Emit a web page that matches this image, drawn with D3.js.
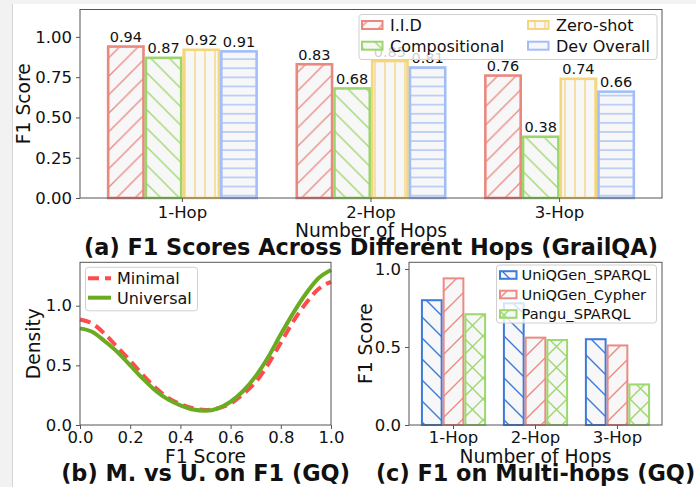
<!DOCTYPE html>
<html>
<head>
<meta charset="utf-8">
<script src="https://cdn.jsdelivr.net/npm/d3@7"></script>
<style>
body { margin: 0; background: #f2f2f2; }
svg { display: block; font-family: "DejaVu Sans", sans-serif; }
</style>
</head>
<body>
<svg id="chart" width="696" height="487"></svg>
<script>
// ---- (a) F1 by hops, GrailQA splits
var hops = ['1-Hop', '2-Hop', '3-Hop'];
var splitNames = ['I.I.D', 'Compositional', 'Zero-shot', 'Dev Overall'];
var iid = [0.94, 0.83, 0.76];
var compositional = [0.87, 0.68, 0.38];
var zeroShot = [0.92, 0.85, 0.74];
var devOverall = [0.91, 0.81, 0.66];
var aTicks = [0, 0.25, 0.5, 0.75, 1.0];

// ---- (b) density of F1, minimal vs universal
var f1Grid = [0, 0.05, 0.1, 0.15, 0.2, 0.25, 0.3, 0.35, 0.4, 0.45, 0.5,
              0.55, 0.6, 0.65, 0.7, 0.75, 0.8, 0.85, 0.9, 0.95, 1.0];
var minimalDensity = [0.885, 0.85, 0.76, 0.65, 0.54, 0.42, 0.315, 0.23, 0.175, 0.14, 0.125,
                      0.14, 0.18, 0.26, 0.36, 0.51, 0.69, 0.87, 1.02, 1.14, 1.20];
var universalDensity = [0.81, 0.78, 0.70, 0.61, 0.50, 0.39, 0.29, 0.215, 0.165, 0.13, 0.12,
                        0.14, 0.195, 0.285, 0.41, 0.57, 0.76, 0.94, 1.10, 1.23, 1.30];
var bXTicks = [0, 0.2, 0.4, 0.6, 0.8, 1.0];
var bYTicks = [0, 0.5, 1.0];

// ---- (c) multi-hop comparison
var methodNames = ['UniQGen_SPARQL', 'UniQGen_Cypher', 'Pangu_SPARQL'];
var uniqSparql = [0.80, 0.78, 0.55];
var uniqCypher = [0.94, 0.56, 0.51];
var panguSparql = [0.71, 0.545, 0.26];
var cTicks = [0, 0.5, 1.0];

var svg = d3.select('#chart');
svg.append('rect').attr('width', 696).attr('height', 487).attr('fill', '#f2f2f2');
svg.append('rect').attr('x', 12).attr('y', 4).attr('width', 684).attr('height', 483).attr('fill', '#fff');
svg.append('line').attr('x1', 12.5).attr('x2', 12.5).attr('y1', 4).attr('y2', 487)
    .attr('stroke', '#d4d4d4');

var defs = svg.append('defs');
var spine = '#555';
var tickFont = 16.5, labelFont = 18.7, titleFont = 22.4;

// hatch patterns like matplotlib's
function hatch(id, color, kind, p, lw) {
    var pat = defs.append('pattern').attr('id', id)
        .attr('patternUnits', 'userSpaceOnUse').attr('width', p).attr('height', p);
    pat.append('rect').attr('width', p).attr('height', p).attr('fill', '#f7f7f7');
    var fwd = 'M-1,1l2,-2M0,' + p + 'l' + p + ',' + (-p) + 'M' + (p - 1) + ',' + (p + 1) + 'l2,-2';
    var back = 'M-1,' + (p - 1) + 'l2,2M0,0l' + p + ',' + p + 'M' + (p - 1) + ',-1l2,2';
    var d = kind === '/' ? fwd : kind === '\\' ? back : kind === 'x' ? fwd + back :
        kind === '|' ? 'M' + p / 2 + ',0V' + p : 'M0,' + p / 2 + 'H' + p;
    pat.append('path').attr('d', d).attr('stroke', color).attr('stroke-width', lw).attr('fill', 'none');
    return 'url(#' + id + ')';
}

function frame(x0, x1, y0, y1) {
    svg.append('rect').attr('x', x0).attr('y', y0).attr('width', x1 - x0).attr('height', y1 - y0)
        .attr('fill', 'none').attr('stroke', spine).attr('stroke-width', 1);
}

function styleAxis(g) {
    g.select('.domain').remove();
    g.selectAll('.tick line').attr('stroke', spine);
    g.selectAll('.tick text').attr('font-size', tickFont).attr('fill', '#111')
        .attr('font-family', '"DejaVu Sans", sans-serif');
}

function text(x, y, s, size, opts) {
    opts = opts || {};
    var t = svg.append('text').attr('x', x).attr('y', y).text(s)
        .attr('font-size', size).attr('fill', '#111')
        .attr('text-anchor', opts.anchor || 'middle');
    if (opts.bold) t.attr('font-weight', 'bold');
    if (opts.rotate) t.attr('transform', 'rotate(-90,' + x + ',' + y + ')');
    return t;
}

// ================= (a)
var aColors = ['#ea8880', '#9bd66c', '#f5d67c', '#a3bef7'];
var aHatch = ['/', '\\', '|', '-'];
var aPeriod = [18.5, 18.5, 10, 9.1];
var aFills = aColors.map(function (c, i) { return hatch('ha' + i, c, aHatch[i], aPeriod[i], 1.3); });
var aSeries = [iid, compositional, zeroShot, devOverall];

var ax = { l: 80, r: 662, t: 9.5, b: 198 };
var xA = d3.scaleBand().domain(hops).range([ax.l, ax.r]).paddingOuter(0.043).paddingInner(0);
var xA1 = d3.scaleBand().domain(splitNames).range([0.1 * xA.bandwidth(), 0.9 * xA.bandwidth()]);
var yA = d3.scaleLinear().domain([0, 1.17]).range([ax.b, ax.t]);

var gA = svg.append('g');
aSeries.forEach(function (vals, si) {
    gA.selectAll(null).data(vals).enter().append('rect')
        .attr('x', function (d, i) { return xA(hops[i]) + xA1(splitNames[si]) + 1.2; })
        .attr('width', xA1.bandwidth() - 2.4)
        .attr('y', function (d) { return yA(d); })
        .attr('height', function (d) { return yA(0) - yA(d); })
        .attr('fill', aFills[si]).attr('stroke', aColors[si]).attr('stroke-width', 2.6);
});
aSeries.forEach(function (vals, si) {
    gA.selectAll(null).data(vals).enter().append('text')
        .attr('x', function (d, i) { return xA(hops[i]) + xA1(splitNames[si]) + xA1.bandwidth() / 2; })
        .attr('y', function (d) { return yA(d) - 4.5; })
        .attr('text-anchor', 'middle').attr('font-size', 14.5).attr('fill', '#111')
        .text(function (d) { return d3.format('.2f')(d); });
});
frame(ax.l, ax.r, ax.t, ax.b);
svg.append('g').attr('transform', 'translate(' + ax.l + ',0)')
    .call(d3.axisLeft(yA).tickValues(aTicks).tickFormat(d3.format('.2f')).tickSize(4).tickPadding(4))
    .call(styleAxis);
svg.append('g').attr('transform', 'translate(0,' + ax.b + ')')
    .call(d3.axisBottom(xA).tickSize(4).tickPadding(4))
    .call(styleAxis);
text(30, (ax.t + ax.b) / 2, 'F1 Score', labelFont, { rotate: true });
text((ax.l + ax.r) / 2, 236.5, 'Number of Hops', labelFont);

// legend (a)
var legA = svg.append('g');
legA.append('rect').attr('x', 359).attr('y', 14.5).attr('width', 298).attr('height', 45).attr('rx', 3)
    .attr('fill', '#fff').attr('fill-opacity', 0.8).attr('stroke', '#d0d0d0');
splitNames.forEach(function (n, i) {
    var col = i < 2 ? 0 : 1, row = i % 2;
    var hx = col ? 528 : 362, ty = 25 + row * 20.7;
    legA.append('rect').attr('x', hx).attr('y', ty - 4).attr('width', 20.5).attr('height', 8)
        .attr('fill', aFills[i]).attr('stroke', aColors[i]).attr('stroke-width', 2);
    legA.append('text').attr('x', hx + 28).attr('y', ty + 5.8).attr('font-size', 16).attr('fill', '#111').text(n);
});
text((ax.l + ax.r) / 2, 255, '(a) F1 Scores Across Different Hops (GrailQA)', titleFont, { bold: true });

// ================= (b)
var bx = { l: 80, r: 331, t: 262.3, b: 425 };
var xB = d3.scaleLinear().domain([0, 1]).range([bx.l, bx.r]);
var yB = d3.scaleLinear().domain([0, 1.364]).range([bx.b, bx.t]);
var line = d3.line().x(function (d, i) { return xB(f1Grid[i]); }).y(function (d) { return yB(d); })
    .curve(d3.curveMonotoneX);
svg.append('path').attr('d', line(minimalDensity)).attr('fill', 'none')
    .attr('stroke', '#ff4b4b').attr('stroke-width', 4).attr('stroke-dasharray', '11,6');
svg.append('path').attr('d', line(universalDensity)).attr('fill', 'none')
    .attr('stroke', '#6aab22').attr('stroke-width', 4);
frame(bx.l, bx.r, bx.t, bx.b);
svg.append('g').attr('transform', 'translate(' + bx.l + ',0)')
    .call(d3.axisLeft(yB).tickValues(bYTicks).tickFormat(d3.format('.1f')).tickSize(4).tickPadding(4))
    .call(styleAxis);
svg.append('g').attr('transform', 'translate(0,' + bx.b + ')')
    .call(d3.axisBottom(xB).tickValues(bXTicks).tickFormat(d3.format('.1f')).tickSize(4).tickPadding(2))
    .call(styleAxis);
text(40, (bx.t + bx.b) / 2, 'Density', labelFont, { rotate: true });
text((bx.l + bx.r) / 2, 463, 'F1 Score', labelFont);

var legB = svg.append('g');
legB.append('rect').attr('x', 85.5).attr('y', 267.3).attr('width', 112).attr('height', 43.5).attr('rx', 3)
    .attr('fill', '#fff').attr('fill-opacity', 0.8).attr('stroke', '#d0d0d0');
[['Minimal', '#ff4b4b', '11,6'], ['Universal', '#6aab22', null]].forEach(function (e, i) {
    var y = 278.3 + i * 19.4;
    var l = legB.append('line').attr('x1', 88).attr('x2', 111).attr('y1', y).attr('y2', y)
        .attr('stroke', e[1]).attr('stroke-width', 4);
    if (e[2]) l.attr('stroke-dasharray', e[2]);
    legB.append('text').attr('x', 117).attr('y', y + 5.8).attr('font-size', 16).attr('fill', '#111').text(e[0]);
});
text((bx.l + bx.r) / 2, 481, '(b) M. vs U. on F1 (GQ)', titleFont, { bold: true });

// ================= (c)
var cColors = ['#3b7bdb', '#ed8a82', '#9bd96c'];
var cHatch = ['\\', '/', 'x'];
var cFills = cColors.map(function (c, i) { return hatch('hc' + i, c, cHatch[i], 21, 1.4); });
var cSeries = [uniqSparql, uniqCypher, panguSparql];

var cx = { l: 409, r: 662, t: 262.3, b: 425 };
var xC = d3.scaleBand().domain(hops).range([cx.l, cx.r]).paddingOuter(0.043).paddingInner(0);
var xC1 = d3.scaleBand().domain(methodNames).range([0.1025 * xC.bandwidth(), 0.8975 * xC.bandwidth()]);
var yC = d3.scaleLinear().domain([0, 1.043]).range([cx.b, cx.t]);
cSeries.forEach(function (vals, si) {
    svg.selectAll(null).data(vals).enter().append('rect')
        .attr('x', function (d, i) { return xC(hops[i]) + xC1(methodNames[si]) + 1; })
        .attr('width', xC1.bandwidth() - 2)
        .attr('y', function (d) { return yC(d); })
        .attr('height', function (d) { return yC(0) - yC(d); })
        .attr('fill', cFills[si]).attr('stroke', cColors[si]).attr('stroke-width', 2);
});
frame(cx.l, cx.r, cx.t, cx.b);
svg.append('g').attr('transform', 'translate(' + cx.l + ',0)')
    .call(d3.axisLeft(yC).tickValues(cTicks).tickFormat(d3.format('.1f')).tickSize(4).tickPadding(4))
    .call(styleAxis);
svg.append('g').attr('transform', 'translate(0,' + cx.b + ')')
    .call(d3.axisBottom(xC).tickSize(4).tickPadding(2))
    .call(styleAxis);
text(372, (cx.t + cx.b) / 2, 'F1 Score', labelFont, { rotate: true });
text((cx.l + cx.r) / 2, 463, 'Number of Hops', labelFont);

var legC = svg.append('g');
legC.append('rect').attr('x', 496.5).attr('y', 265).attr('width', 160).attr('height', 58).attr('rx', 3)
    .attr('fill', '#fff').attr('fill-opacity', 0.8).attr('stroke', '#d0d0d0');
methodNames.forEach(function (n, i) {
    var y = 275 + i * 19.5;
    legC.append('rect').attr('x', 500).attr('y', y - 3.8).attr('width', 16.5).attr('height', 7.6)
        .attr('fill', cFills[i]).attr('stroke', cColors[i]).attr('stroke-width', 2);
    legC.append('text').attr('x', 521.5).attr('y', y + 5.2).attr('font-size', 14.6).attr('fill', '#111').text(n);
});
text((cx.l + cx.r) / 2, 481, '(c) F1 on Multi-hops (GQ)', titleFont, { bold: true });
</script>
</body>
</html>
